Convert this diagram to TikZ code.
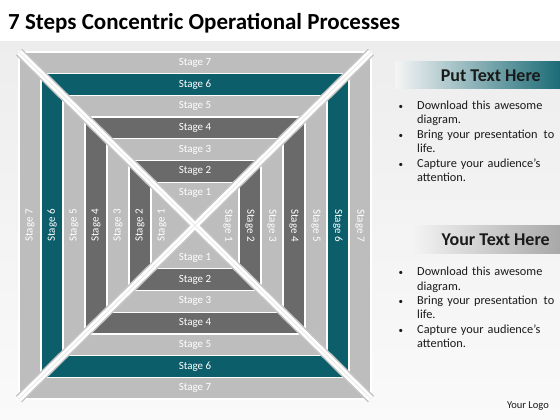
\documentclass[tikz,border=0pt]{standalone}
\usepackage{fontspec}
\setmainfont{Carlito}
\usepackage{enumitem}
\definecolor{stagegray}{HTML}{BDBDBD}
\definecolor{stagedark}{HTML}{6A6A6A}
\definecolor{stageteal}{HTML}{0C5E6B}
\definecolor{headteal}{HTML}{1B6B76}
\definecolor{headgray}{HTML}{A8A8A8}
\definecolor{textdark}{HTML}{1A1A1A}
\newcommand{\bulletlist}[1]{\begin{itemize}[leftmargin=19pt,labelsep=14pt,itemsep=0pt,topsep=0pt,parsep=0pt,partopsep=0pt,label={\small\textbullet}]#1\end{itemize}}

\begin{document}
\begin{tikzpicture}[x=1pt,y=-1pt,
  band/.style={draw=white,line width=1.2pt},
  stagelbl/.style={text=white,font=\fontsize{11}{12}\selectfont,inner sep=0pt},
  tubeedge/.style={draw=gray!45,line width=9pt},
  tubecore/.style={draw=white,line width=6pt},
  headlbl/.style={anchor=east,text=textdark,font=\bfseries\fontsize{18}{20}\selectfont,inner sep=0pt},
  bullets/.style={anchor=north west,text width=160pt,inner sep=0pt,text=textdark,font=\fontsize{12.3}{14.4}\selectfont,align=left}
  ]
    \useasboundingbox (0,0) rectangle (560,420);
    \fill[white] (0,0) rectangle (560,420);
    \shade[top color=gray!14,bottom color=gray!4] (0,42) rectangle (560,420);

    \node[anchor=base west,inner sep=0pt,text=black,font=\bfseries\fontsize{23}{25}\selectfont] (title) at (8,30) {7 Steps Concentric Operational Processes};

    \foreach \k/\col in {7/stagegray,6/stageteal,5/stagegray,4/stagedark,3/stagegray,2/stagedark,1/stagegray}
        \filldraw[band,fill=\col] (195-176*\k/8-22,225.5-173.5*\k/8-21.7) rectangle (195+176*\k/8+22,225.5+173.5*\k/8+21.7);
    \draw[white,line width=2pt] (19,52) rectangle (371,399);

    \foreach \k in {1,...,7}{
        \node[stagelbl] (top\k) at (195,225.5-173.5*\k/8-10.8) {Stage \k};
        \node[stagelbl] (bot\k) at (195,225.5+173.5*\k/8+10.8) {Stage \k};
        \node[stagelbl,rotate=90] (left\k) at (195-176*\k/8-11,225.5) {Stage \k};
        \node[stagelbl,rotate=-90] (right\k) at (195+176*\k/8+11,225.5) {Stage \k};
    }

    \coordinate (nw) at (19,52);
    \coordinate (ne) at (371,52);
    \coordinate (sw) at (19,399);
    \coordinate (se) at (371,399);
    \draw[tubeedge] (nw) -- (se) (ne) -- (sw);
    \draw[tubecore] (nw) -- (se) (ne) -- (sw);
    \draw[white!85!gray,line width=1pt] (nw) -- (se) (ne) -- (sw);

    \shade[left color=gray!8,right color=headteal] (395,62) rectangle (560,89);
    \node[headlbl] (head1) at (541,76) {Put Text Here};
    \node[bullets] (list1) at (398,95) {\bulletlist{\item Download this awesome\newline diagram.
        \item Bring your presentation\hspace{2pt} to\newline life.
        \item Capture your audience’s\newline attention.}};

    \shade[left color=gray!8,right color=headgray] (410,225) rectangle (560,253);
    \node[headlbl] (head2) at (550,240) {Your Text Here};
    \node[bullets] (list2) at (398,261) {\bulletlist{\item Download this awesome\newline diagram.
        \item Bring your presentation\hspace{2pt} to\newline life.
        \item Capture your audience’s\newline attention.}};

    \node[anchor=east,inner sep=0pt,text=textdark,font=\fontsize{10.5}{12}\selectfont] (logo) at (549,406) {Your Logo};
\end{tikzpicture}
\end{document}
